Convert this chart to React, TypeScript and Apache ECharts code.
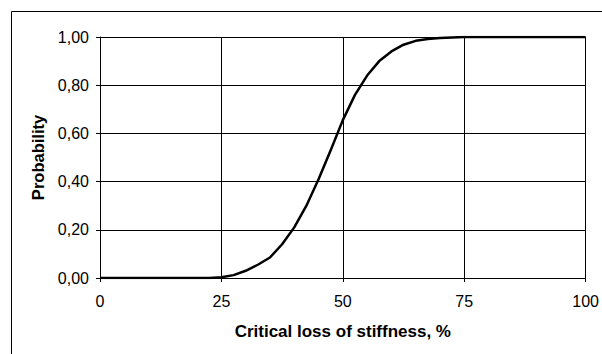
import React, { useEffect, useRef } from "react";
import * as echarts from "echarts";

const lossPct = [
  0, 2.5, 5, 7.5, 10, 12.5, 15, 17.5, 20, 22.5, 25, 27.5, 30, 32.5, 35, 37.5, 40, 42.5, 45, 47.5, 50,
  52.5, 55, 57.5, 60, 62.5, 65, 67.5, 70, 72.5, 75, 77.5, 80, 82.5, 85, 87.5, 90, 92.5, 95, 97.5, 100,
];
const probability = [
  0, 0, 0, 0, 0, 0, 0, 0, 0, 0, 0.003, 0.012, 0.03, 0.055, 0.085, 0.14, 0.21, 0.3, 0.41, 0.53, 0.655,
  0.76, 0.84, 0.9, 0.94, 0.968, 0.984, 0.992, 0.996, 0.998, 1, 1, 1, 1, 1, 1, 1, 1, 1, 1, 1,
];
const xTicks = [0, 25, 50, 75, 100];
const yTicks = [0, 0.2, 0.4, 0.6, 0.8, 1.0];
const xTitle = "Critical loss of stiffness, %";
const yTitle = "Probability";

export default function App() {
  const ref = useRef<HTMLDivElement>(null);
  useEffect(() => {
    if (!ref.current) return;
    const chart = echarts.init(ref.current, undefined, { renderer: "svg" });
    const font = "Liberation Sans, Arial, sans-serif";
    chart.setOption({
      animation: false,
      backgroundColor: "#fff",
      grid: { left: 100, top: 37, right: 15, bottom: 76, containLabel: false },
      graphic: [
        {
          type: "rect",
          shape: { x: 11.5, y: 11.5, width: 640, height: 400 },
          style: { fill: "none", stroke: "#000", lineWidth: 1 },
          silent: true,
        },
      ],
      xAxis: {
        type: "value",
        min: xTicks[0],
        max: xTicks[xTicks.length - 1],
        interval: 25,
        name: xTitle,
        nameLocation: "middle",
        nameGap: 45,
        nameTextStyle: { fontFamily: font, fontSize: 17, fontWeight: "bold", color: "#000" },
        axisLine: { show: true, lineStyle: { color: "#000", width: 1 } },
        axisTick: { show: true, inside: false, length: 4, lineStyle: { color: "#000" } },
        axisLabel: { margin: 15, fontFamily: font, fontSize: 16, color: "#000" },
        splitLine: { show: true, lineStyle: { color: "#000", width: 1 } },
      },
      yAxis: {
        type: "value",
        min: yTicks[0],
        max: yTicks[yTicks.length - 1],
        interval: 0.2,
        name: yTitle,
        nameLocation: "middle",
        nameGap: 54,
        nameTextStyle: { fontFamily: font, fontSize: 16.5, fontWeight: "bold", color: "#000" },
        axisLine: { show: true, lineStyle: { color: "#000", width: 1 } },
        axisTick: { show: true, inside: false, length: 4, lineStyle: { color: "#000" } },
        axisLabel: {
          margin: 11,
          fontFamily: font,
          fontSize: 16,
          color: "#000",
          formatter: (v: number) => v.toFixed(2).replace(".", ","),
        },
        splitLine: { show: true, lineStyle: { color: "#000", width: 1 } },
      },
      series: [
        {
          type: "line",
          data: lossPct.map((x, i) => [x, probability[i]]),
          showSymbol: false,
          smooth: false,
          lineStyle: { color: "#000", width: 2.5, join: "round" },
        },
      ],
    });
    return () => chart.dispose();
  }, []);
  return (
    <div
      ref={ref}
      style={{ position: "fixed", left: 0, top: 0, width: 602, height: 354, background: "#fff" }}
    />
  );
}
